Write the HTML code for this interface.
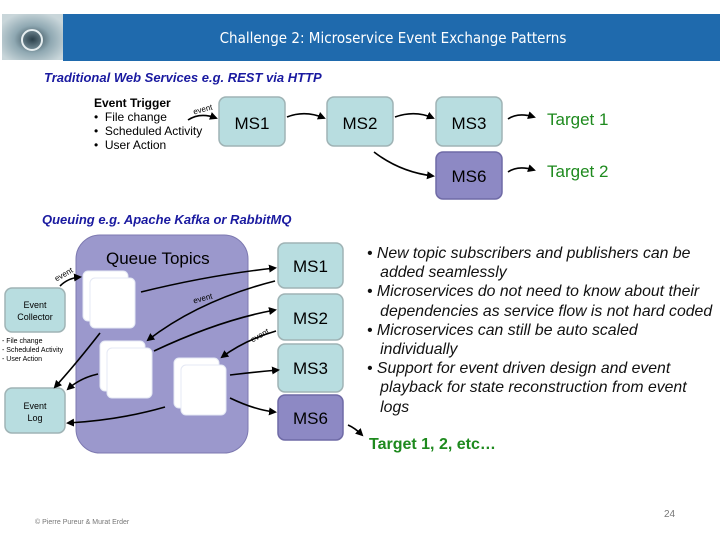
<!DOCTYPE html>
<html><head><meta charset="utf-8"><style>
body{margin:0;width:720px;height:540px;background:#fff;position:relative;overflow:hidden;font-family:"Liberation Sans",sans-serif}
.a{position:absolute;white-space:nowrap}
</style></head><body>
<svg width="720" height="540" style="position:absolute;left:0;top:0">
<defs>
<marker id="ar" markerWidth="8" markerHeight="8" refX="6" refY="4" orient="auto" markerUnits="userSpaceOnUse"><path d="M0,0 L8,4 L0,8 z" fill="#000"/></marker>
<radialGradient id="lg" cx="50%" cy="55%" r="60%"><stop offset="0" stop-color="#2a3f4a"/><stop offset="0.5" stop-color="#8fa8b2"/><stop offset="1" stop-color="#c9d6da"/></radialGradient>
</defs>
<rect x="2" y="14" width="61" height="46" fill="url(#lg)"/>
<circle cx="32" cy="40" r="10" fill="none" stroke="#e6eef0" stroke-width="2"/>
<rect x="63" y="14" width="657" height="47" fill="#1f6aad"/>
<g stroke="#9fb3b5" stroke-width="1.5" fill="#b8dde0">
<rect x="219" y="97" width="66" height="49" rx="7"/>
<rect x="327" y="97" width="66" height="49" rx="7"/>
<rect x="436" y="97" width="66" height="49" rx="7"/>
<rect x="436" y="152" width="66" height="47" rx="7" fill="#8d89c4" stroke="#6f6aa6"/>
</g>
<g stroke="#000" stroke-width="1.6" fill="none" marker-end="url(#ar)">
<path d="M188,120 Q200,112 216,118"/>
<path d="M287,117 Q305,110 324,118"/>
<path d="M395,117 Q415,110 433,118"/>
<path d="M374,152 Q400,172 433,176"/>
<path d="M508,119 Q518,112 534,117"/>
<path d="M508,172 Q518,165 534,170"/>
</g>
<rect x="76" y="235" width="172" height="218" rx="24" fill="#9b98cc" stroke="#7d79b0"/>
<g stroke="#9fb3b5" stroke-width="1.5" fill="#b8dde0">
<rect x="278" y="243" width="65" height="45" rx="7"/>
<rect x="278" y="294" width="65" height="46" rx="7"/>
<rect x="278" y="344" width="65" height="48" rx="7"/>
<rect x="278" y="395" width="65" height="45" rx="7" fill="#8d89c4" stroke="#6f6aa6"/>
<rect x="5" y="288" width="60" height="44" rx="7"/>
<rect x="5" y="388" width="60" height="45" rx="7"/>
</g>
<g fill="#fff" stroke="#e4e8f4" stroke-width="1">
<rect x="83" y="271" width="45" height="50" rx="5"/><rect x="90" y="278" width="45" height="50" rx="5"/>
<rect x="100" y="341" width="45" height="50" rx="5"/><rect x="107" y="348" width="45" height="50" rx="5"/>
<rect x="174" y="358" width="45" height="50" rx="5"/><rect x="181" y="365" width="45" height="50" rx="5"/>
</g>
<g stroke="#000" stroke-width="1.6" fill="none" marker-end="url(#ar)">
<path d="M60,286 Q68,278 80,277"/>
<path d="M141,292 Q210,275 275,268"/>
<path d="M275,281 Q200,300 148,340"/>
<path d="M154,351 Q220,320 275,310"/>
<path d="M276,331 Q245,340 222,357"/>
<path d="M230,375 Q255,372 278,370"/>
<path d="M230,398 Q255,410 275,412"/>
<path d="M100,333 Q75,365 55,387"/>
<path d="M98,374 Q80,378 68,389"/>
<path d="M165,407 Q120,420 68,423"/>
<path d="M348,425 Q355,428 362,435"/>
</g>
</svg>
<div class="a" style="left:0;width:786px;top:29px;text-align:center;color:#fff;font-size:15px;font-family:'DejaVu Sans Condensed','DejaVu Sans',sans-serif">Challenge 2: Microservice Event Exchange Patterns</div>
<div class="a" style="left:44px;top:70px;font-size:13px;font-style:italic;font-weight:bold;color:#1a1aa0">Traditional Web Services e.g. REST via HTTP</div>
<div class="a" style="left:94px;top:96px;font-size:12px;line-height:14px;color:#000"><b>Event Trigger</b><br>•&nbsp;&nbsp;File change<br>•&nbsp;&nbsp;Scheduled Activity<br>•&nbsp;&nbsp;User Action</div>
<div class="a" style="left:193px;top:105px;font-size:8px;transform:rotate(-15deg)">event</div>
<div class="a" style="left:219px;width:66px;top:114px;text-align:center;font-size:17px">MS1</div>
<div class="a" style="left:327px;width:66px;top:114px;text-align:center;font-size:17px">MS2</div>
<div class="a" style="left:436px;width:66px;top:114px;text-align:center;font-size:17px">MS3</div>
<div class="a" style="left:436px;width:66px;top:167px;text-align:center;font-size:17px">MS6</div>
<div class="a" style="left:547px;top:110px;font-size:17px;color:#1e8a1e">Target 1</div>
<div class="a" style="left:547px;top:162px;font-size:17px;color:#1e8a1e">Target 2</div>
<div class="a" style="left:42px;top:212px;font-size:13px;font-style:italic;font-weight:bold;color:#1a1aa0">Queuing e.g. Apache Kafka or RabbitMQ</div>
<div class="a" style="left:106px;top:249px;font-size:17px">Queue Topics</div>
<div class="a" style="left:278px;width:65px;top:257px;text-align:center;font-size:17px">MS1</div>
<div class="a" style="left:278px;width:65px;top:309px;text-align:center;font-size:17px">MS2</div>
<div class="a" style="left:278px;width:65px;top:359px;text-align:center;font-size:17px">MS3</div>
<div class="a" style="left:278px;width:65px;top:409px;text-align:center;font-size:17px">MS6</div>
<div class="a" style="left:5px;width:60px;top:299px;text-align:center;font-size:9px;line-height:12px">Event<br>Collector</div>
<div class="a" style="left:5px;width:60px;top:400px;text-align:center;font-size:9px;line-height:12px">Event<br>Log</div>
<div class="a" style="left:2px;top:337px;font-size:7px;line-height:9px">- File change<br>- Scheduled Activity<br>- User Action</div>
<div class="a" style="left:54px;top:270px;font-size:8px;transform:rotate(-30deg)">event</div>
<div class="a" style="left:193px;top:294px;font-size:8px;transform:rotate(-15deg)">event</div>
<div class="a" style="left:250px;top:331px;font-size:8px;transform:rotate(-30deg)">event</div>
<div class="a" style="left:367px;top:244px;font-size:15.8px;line-height:19.2px;font-style:italic;color:#111">• New topic subscribers and publishers can be<br>&nbsp;&nbsp;&nbsp;added seamlessly<br>• Microservices do not need to know about their<br>&nbsp;&nbsp;&nbsp;dependencies as service flow is not hard coded<br>• Microservices can still be auto scaled<br>&nbsp;&nbsp;&nbsp;individually<br>• Support for event driven design and event<br>&nbsp;&nbsp;&nbsp;playback for state reconstruction from event<br>&nbsp;&nbsp;&nbsp;logs</div>
<div class="a" style="left:369px;top:436px;font-size:16px;font-weight:bold;color:#1e8a1e">Target 1, 2, etc…</div>
<div class="a" style="left:35px;top:519px;font-size:7px;color:#777">© Pierre Pureur &amp; Murat Erder</div>
<div class="a" style="left:664px;top:509px;font-size:10px;color:#777">24</div>
</body></html>
